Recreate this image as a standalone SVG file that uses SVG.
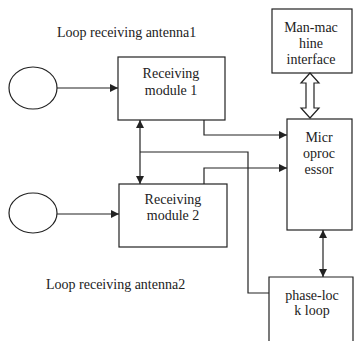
<svg xmlns="http://www.w3.org/2000/svg" width="355" height="341" viewBox="0 0 355 341">
<style>
.b{fill:none;stroke:#222;stroke-width:1.2}
.l{fill:none;stroke:#222;stroke-width:1.2}
text{font-family:'Liberation Serif','Times New Roman',Times,serif;font-size:14px;fill:#222}
.c{text-anchor:middle}
</style>
<defs>
<marker id="ah" viewBox="0 0 10 10" refX="10" refY="5" markerWidth="8" markerHeight="8" markerUnits="userSpaceOnUse" orient="auto-start-reverse">
<path d="M0,0 L10,5 L0,10 z" fill="#222"/>
</marker>
</defs>
<rect width="355" height="341" fill="#fff"/>
<text x="57" y="37" font-family="Liberation Serif, serif">Loop receiving antenna1</text>
<text x="46" y="289" font-family="Liberation Serif, serif">Loop receiving antenna2</text>
<g id="antenna1"><ellipse class="b" cx="33" cy="88" rx="24" ry="21"/></g>
<g id="antenna2"><ellipse class="b" cx="33" cy="213" rx="24" ry="20"/></g>
<g id="module1"><rect class="b" x="118" y="57" width="107" height="63"/>
<text class="c" x="171" y="78">Receiving</text><text class="c" x="171" y="95">module 1</text></g>
<g id="module2"><rect class="b" x="119" y="184" width="108" height="63"/>
<text class="c" x="173" y="204">Receiving</text><text class="c" x="173" y="220">module 2</text></g>
<g id="hmi"><rect class="b" x="272" y="9" width="80" height="64"/>
<text class="c" x="311" y="32">Man-mac</text><text class="c" x="311" y="48">hine</text><text class="c" x="311" y="64">interface</text></g>
<g id="micro"><rect class="b" x="287" y="119" width="65" height="111"/>
<text class="c" x="319" y="142">Micr</text><text class="c" x="319" y="158">oproc</text><text class="c" x="319" y="174">essor</text></g>
<g id="pll"><path class="b" d="M269,341 V277 H353 V341"/>
<text class="c" x="312" y="300">phase-loc</text><text class="c" x="312" y="315">k loop</text></g>
<g id="connectors">
<line class="l" x1="57" y1="88" x2="118" y2="88" marker-end="url(#ah)"/>
<line class="l" x1="57" y1="214" x2="119" y2="214" marker-end="url(#ah)"/>
<line class="l" x1="140" y1="120" x2="140" y2="184" marker-start="url(#ah)" marker-end="url(#ah)"/>
<polyline class="l" points="140,152 248,152 248,293 269,293"/>
<polyline class="l" points="204,120 204,135 287,135" marker-end="url(#ah)"/>
<polyline class="l" points="204,184 204,168 287,168" marker-end="url(#ah)"/>
<line class="l" x1="323" y1="230" x2="323" y2="277" marker-start="url(#ah)" marker-end="url(#ah)"/>
<path class="l" fill="#fff" d="M310,73 L319,83 L314,83 L314,108 L319,108 L310,118 L301,108 L306,108 L306,83 L301,83 Z"/>
</g>
</svg>
